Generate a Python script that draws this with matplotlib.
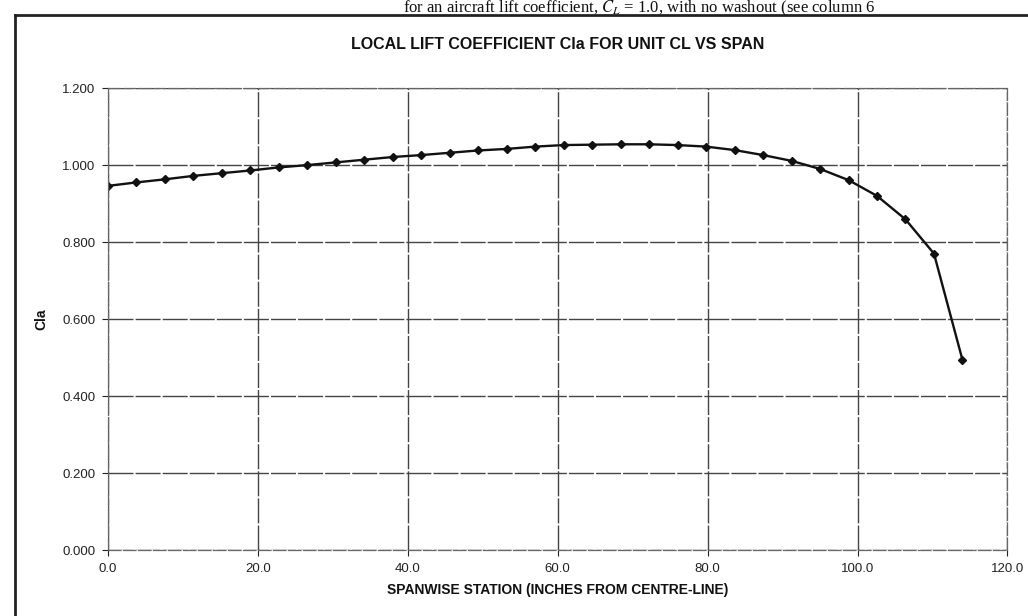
import matplotlib
matplotlib.use('Agg')
import matplotlib.pyplot as plt
from matplotlib.lines import Line2D

# Spanwise stations (inches from centre-line) and local lift coefficient
station = [0.0, 3.8, 7.6, 11.4, 15.2, 19.0, 22.8, 26.6, 30.4, 34.2, 38.0,
           41.8, 45.6, 49.4, 53.2, 57.0, 60.8, 64.6, 68.4, 72.2, 76.0,
           79.8, 83.6, 87.4, 91.2, 95.0, 98.8, 102.6, 106.4, 110.2, 114.0]
cla = [0.946, 0.955, 0.963, 0.972, 0.979, 0.986, 0.994, 1.000, 1.007, 1.014,
       1.021, 1.026, 1.032, 1.038, 1.042, 1.048, 1.052, 1.053, 1.054, 1.054,
       1.052, 1.048, 1.039, 1.026, 1.011, 0.990, 0.961, 0.920, 0.859, 0.770,
       0.494]

x_ticks = [0, 20, 40, 60, 80, 100, 120]
y_ticks = [0.0, 0.2, 0.4, 0.6, 0.8, 1.0, 1.2]

plt.rcParams['font.family'] = ['Liberation Sans', 'DejaVu Sans']
plt.rcParams['mathtext.fontset'] = 'stix'

fig = plt.figure(figsize=(10.28, 6.16), dpi=100)
ax = fig.add_axes([0.105, 0.107, 0.875, 0.750])

ax.plot(station, cla, color='#111111', linewidth=1.7, marker='D',
        markersize=4, markerfacecolor='#111111', markeredgecolor='#111111')

ax.set_xlim(0, 120)
ax.set_ylim(0, 1.2)
ax.set_xticks(x_ticks)
ax.set_yticks(y_ticks)
ax.set_xticklabels([f'{v:.1f}' for v in x_ticks], fontsize=9.5)
ax.set_yticklabels([f'{v:.3f}' for v in y_ticks], fontsize=9.5)
ax.tick_params(direction='out', length=4, width=0.8, colors='#222222', pad=5)

ax.grid(True, color='#444444', linewidth=1.0, linestyle=(0, (18, 1.5)))
ax.set_axisbelow(True)
for side in ['left', 'right', 'top', 'bottom']:
    ax.spines[side].set_color('#666666')
    ax.spines[side].set_linewidth(0.9)
    ax.spines[side].set_linestyle((0, (10, 2)))

ax.set_title('LOCAL LIFT COEFFICIENT Cla FOR UNIT CL VS SPAN',
             fontsize=11.5, fontweight='bold', pad=28, color='#111111')
ax.set_xlabel('SPANWISE STATION (INCHES FROM CENTRE-LINE)', fontsize=10,
              fontweight='bold', labelpad=6, color='#111111')
ax.set_ylabel('Cla', fontsize=10, fontweight='bold', labelpad=10, color='#111111')

# scanned page: text line at the top and a frame around the chart
fig.text(0.392, 1 - 12 / 616, 'for an aircraft lift coefficient, $C_L$ = 1.0, with no washout (see column 6',
         family='Liberation Serif', fontsize=12, va='baseline', ha='left', color='#111111')
fig.add_artist(Line2D([0.0146, 1.0], [1 - 15 / 616, 1 - 15 / 616],
                      color='#222222', linewidth=2.0))
fig.add_artist(Line2D([0.0146, 0.0146], [0.0, 1 - 15 / 616],
                      color='#222222', linewidth=2.0))

fig.savefig('out.png', dpi=100)
